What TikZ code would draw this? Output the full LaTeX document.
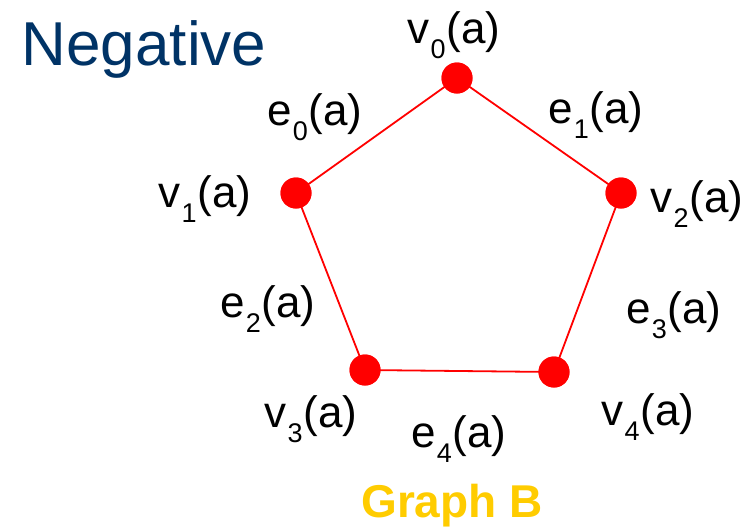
\documentclass[tikz,border=0pt]{standalone}
\usepackage{fontspec}
\setmainfont{Liberation Sans}
\definecolor{navy}{HTML}{003366}
\definecolor{gold}{HTML}{FFCC00}
\newcommand{\lab}[2]{#1\kern1pt\raisebox{-15pt}{\fontsize{27}{27}\selectfont #2}\kern1pt(a)}
\tikzset{
  dot/.style={circle, fill=red, minimum size=31pt, inner sep=0pt},
  edge/.style={draw=red, line width=1.8pt},
  lbl/.style={font=\fontsize{44}{44}\selectfont, inner sep=0pt, anchor=base}
}
\begin{document}
\begin{tikzpicture}[x=1pt,y=-1pt]
\useasboundingbox (0,0) rectangle (751,531);
\node[dot] (v0) at (457,78) {};
\node[dot] (v1) at (296,193) {};
\node[dot] (v2) at (621,193) {};
\node[dot] (v3) at (365,370) {};
\node[dot] (v4) at (554,372) {};
\draw[edge] (v0.center) -- (v1.center) -- (v3.center) -- (v4.center) -- (v2.center) -- (v0.center);
\foreach \n in {v0,v1,v2,v3,v4} \node[dot] at (\n) {};
\node[lbl] (l0) at (454,43) {\lab{v}{0}};
\node[lbl] (l1) at (205,207) {\lab{v}{1}};
\node[lbl] (l2) at (697,212) {\lab{v}{2}};
\node[lbl] (l3) at (311,427) {\lab{v}{3}};
\node[lbl] (l4) at (648,425) {\lab{v}{4}};
\node[lbl] (m0) at (315,125) {\lab{e}{0}};
\node[lbl] (m1) at (596,123) {\lab{e}{1}};
\node[lbl] (m2) at (268,317) {\lab{e}{2}};
\node[lbl] (m3) at (674,323) {\lab{e}{3}};
\node[lbl] (m4) at (459,447) {\lab{e}{4}};
\node[inner sep=0pt, anchor=base, text=navy, font=\fontsize{62}{62}\selectfont] (neg) at (144,65) {Negative};
\node[inner sep=0pt, anchor=base, text=gold, font=\fontsize{46}{46}\selectfont\bfseries] (gb) at (452,517) {Graph B};
\end{tikzpicture}
\end{document}
